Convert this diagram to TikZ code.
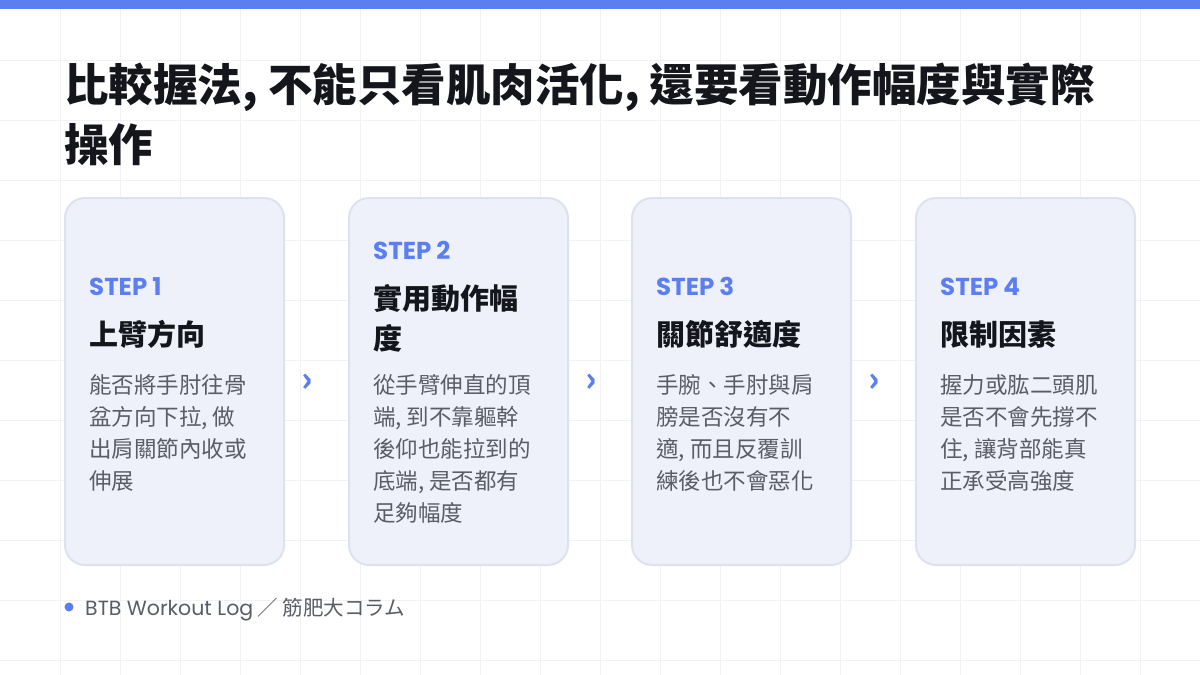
\documentclass[tikz,border=0pt]{standalone}
\usepackage{fontspec}
\setmainfont{Noto Sans CJK TC}
\newfontfamily\pop{Poppins}
\definecolor{bar}{HTML}{5B7FF0}
\definecolor{stepc}{HTML}{5B7FF0}
\definecolor{cardf}{HTML}{EFF1FA}
\definecolor{cardd}{HTML}{DDE2EF}
\definecolor{grid}{HTML}{F1F2F5}
\definecolor{body}{HTML}{5A5D66}
\definecolor{ink}{HTML}{14161C}
\begin{document}
\begin{tikzpicture}[x=1pt,y=-1pt,
  card/.style={draw=cardd,line width=2pt,fill=cardf,rounded corners=20pt},
  steplbl/.style={anchor=base west,text=stepc,font=\fontsize{24.5}{24}\selectfont\pop\bfseries,inner sep=0},
  ttl/.style={anchor=base west,text=ink,font=\fontsize{29}{40}\selectfont\bfseries,inner sep=0,align=left},
  bdy/.style={anchor=base west,text=body,font=\fontsize{22.5}{32}\selectfont,inner sep=0,align=left},
  chev/.style={text=stepc,font=\fontsize{34}{34}\selectfont\bfseries,inner sep=0}]
\useasboundingbox (0,0) rectangle (1200,675);
\fill[white] (0,0) rectangle (1200,675);
\foreach \x in {60,120,...,1140} \draw[grid,line width=0.8pt] (\x,0) -- (\x,675);
\foreach \y in {60,120,...,660} \draw[grid,line width=0.8pt] (0,\y) -- (1200,\y);
\fill[bar] (0,0) rectangle (1200,9);
\node[anchor=base west,inner sep=0,text=ink,font=\fontsize{44.5}{60}\selectfont\bfseries,align=left] (title) at (64,161) {比較握法, 不能只看肌肉活化, 還要看動作幅度與實際\\操作};
\foreach \i/\x in {1/65,2/349,3/632,4/916} \draw[card] (\x,198) rectangle ++(219,367) node[pos=0.5] (c\i) {};
\node[steplbl] (s1) at (89,295) {STEP 1};
\node[ttl] (t1) at (89,345) {上臂方向};
\node[bdy] (b1) at (89,489) {能否將手肘往骨\\盆方向下拉, 做\\出肩關節內收或\\伸展};
\node[steplbl] (s2) at (373,259) {STEP 2};
\node[ttl] (t2) at (373,349) {實用動作幅\\度};
\node[bdy] (b2) at (373,521) {從手臂伸直的頂\\端, 到不靠軀幹\\後仰也能拉到的\\底端, 是否都有\\足夠幅度};
\node[steplbl] (s3) at (656,295) {STEP 3};
\node[ttl] (t3) at (656,345) {關節舒適度};
\node[bdy] (b3) at (656,489) {手腕、手肘與肩\\膀是否沒有不\\適, 而且反覆訓\\練後也不會惡化};
\node[steplbl] (s4) at (940,295) {STEP 4};
\node[ttl] (t4) at (940,345) {限制因素};
\node[bdy] (b4) at (940,489) {握力或肱二頭肌\\是否不會先撐不\\住, 讓背部能真\\正承受高強度};
\node[chev] (h1) at (307,383) {›};
\node[chev] (h2) at (591,383) {›};
\node[chev] (h3) at (874,383) {›};
\fill[stepc] (69,607) circle (4.5);
\node[anchor=base west,inner sep=0,text=body,font=\fontsize{20.5}{20}\selectfont] (foot) at (85,615) {{\pop BTB Workout Log} ／ 筋肥大コラム};
\end{tikzpicture}
\end{document}
